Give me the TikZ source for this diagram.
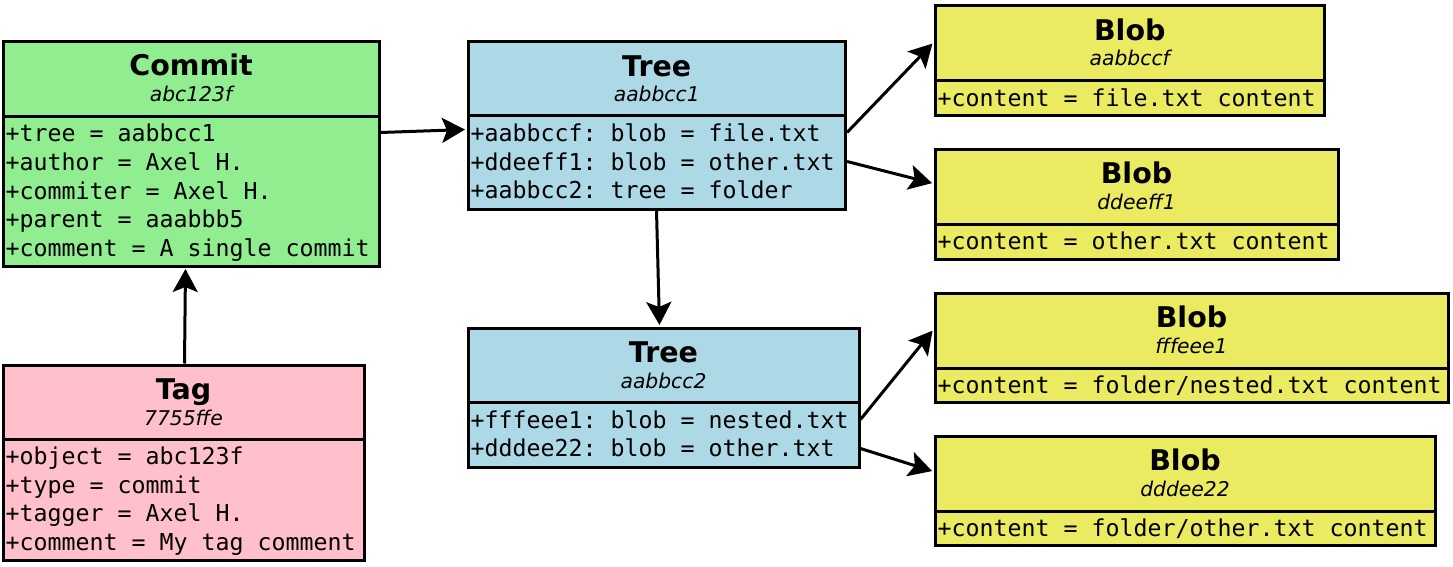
\documentclass[tikz,border=0pt]{standalone}
\usepackage{fontspec}
\setmainfont{DejaVu Sans}
\setmonofont{DejaVu Sans Mono}
\usetikzlibrary{calc,arrows.meta}
\definecolor{cgreen}{HTML}{90EE90}
\definecolor{cblue}{HTML}{ADD8E6}
\definecolor{cpink}{HTML}{FFC0CB}
\definecolor{cyellow}{RGB}{235,235,98}
\tikzset{
  umlpart/.style={draw=black, line width=3pt, rectangle, inner sep=0pt},
  titletext/.style={anchor=base, inner sep=0pt, font=\fontsize{28.5}{30}\selectfont\bfseries},
  subtext/.style={anchor=base, inner sep=0pt, font=\fontsize{20.3}{22}\selectfont\itshape},
  bodytext/.style={anchor=base west, inner sep=0pt, font=\fontsize{23.25}{28}\selectfont\ttfamily},
  link/.style={line width=3pt, -{Stealth[length=23pt,width=25pt,inset=5pt]}, shorten >=1.5pt},
}
% #1 name, #2 x1, #3 y1, #4 x2, #5 y2, #6 fill, #7 title, #8 subtitle
\newcommand\UmlHead[8]{%
  \pgfmathsetmacro\umlW{#4-#2}\pgfmathsetmacro\umlH{#5-#3}%
  \pgfmathsetmacro\umlCX{(#2+#4)/2}\pgfmathsetmacro\umlCY{(#3+#5)/2}%
  \node[umlpart, fill=#6, minimum width=\umlW pt, minimum height=\umlH pt] (#1H) at (\umlCX,\umlCY) {};
  \node[titletext] (#1T) at ($(#1H.north)+(0,36)$) {#7};
  \node[subtext] (#1S) at ($(#1H.north)+(0,61.5)$) {#8};
}
% #1 name, #2 x1, #3 y1, #4 x2, #5 y2, #6 fill, #7 lines
\newcommand\UmlBody[7]{%
  \pgfmathsetmacro\umlW{#4-#2}\pgfmathsetmacro\umlH{#5-#3}%
  \pgfmathsetmacro\umlCX{(#2+#4)/2}\pgfmathsetmacro\umlCY{(#3+#5)/2}%
  \node[umlpart, fill=#6, minimum width=\umlW pt, minimum height=\umlH pt] (#1B) at (\umlCX,\umlCY) {};
  \foreach \umlt [count=\umli] in {#7} {
    \node[bodytext] (#1L\umli) at ($(#1B.north west)+(4,{27+28.5*(\umli-1)})$) {\umlt};
  }
}
\begin{document}
\begin{tikzpicture}[x=1pt,y={(0pt,-1pt)}]
\useasboundingbox (0,0) rectangle (1453,567);

\UmlHead{commit}{3}{41.5}{379}{116.5}{cgreen}{Commit}{abc123f}
\UmlBody{commit}{3}{116.5}{379}{266}{cgreen}{+tree = aabbcc1,+author = Axel H.,+commiter = Axel H.,+parent = aaabbb5,+comment = A single commit}

\UmlHead{tree1}{468}{42}{845.5}{116}{cblue}{Tree}{aabbcc1}
\UmlBody{tree1}{468}{116}{845.5}{209}{cblue}{+aabbccf: blob = file.txt,+ddeeff1: blob = other.txt,+aabbcc2: tree = folder}

\UmlHead{blob1}{935}{6}{1324.5}{81}{cyellow}{Blob}{aabbccf}
\UmlBody{blob1}{935}{81}{1324.5}{116}{cyellow}{+content = file.txt content}

\UmlHead{blob2}{935}{149}{1338}{224}{cyellow}{Blob}{ddeeff1}
\UmlBody{blob2}{935}{224}{1338}{259}{cyellow}{+content = other.txt content}

\UmlHead{blob3}{935}{293}{1448}{368}{cyellow}{Blob}{fffeee1}
\UmlBody{blob3}{935}{368}{1448}{402}{cyellow}{+content = folder/nested.txt content}

\UmlHead{blob4}{935}{436}{1435}{511}{cyellow}{Blob}{dddee22}
\UmlBody{blob4}{935}{511}{1435}{545}{cyellow}{+content = folder/other.txt content}

\UmlHead{tree2}{468}{328}{859}{402.5}{cblue}{Tree}{aabbcc2}
\UmlBody{tree2}{468}{402.5}{859}{467}{cblue}{+fffeee1: blob = nested.txt,+dddee22: blob = other.txt}

\UmlHead{tag}{3}{365}{364}{439}{cpink}{Tag}{7755ffe}
\UmlBody{tag}{3}{439}{364}{560}{cpink}{+object = abc123f,+type = commit,+tagger = Axel H.,+comment = My tag comment}

\draw[link] ($(commitB.north east)+(0,17.5)$) -- ($(tree1B.north west)+(0,15)$);
\draw[link] ($(tagH.north west)+(183,0)$) -- ($(commitB.south west)+(184,0)$);
\draw[link] ($(tree1B.north east)+(0,18)$) -- ($(blob1H.north west)+(0,38)$);
\draw[link] ($(tree1B.north east)+(0,47)$) -- ($(blob2H.north west)+(0,36)$);
\draw[link] ($(tree1B.south west)+(190,0)$) -- ($(tree2H.north west)+(193,0)$);
\draw[link] ($(tree2B.north east)+(0,18.5)$) -- ($(blob3H.north west)+(0,38)$);
\draw[link] ($(tree2B.north east)+(0,47.5)$) -- ($(blob4H.north west)+(0,37)$);
\end{tikzpicture}
\end{document}
